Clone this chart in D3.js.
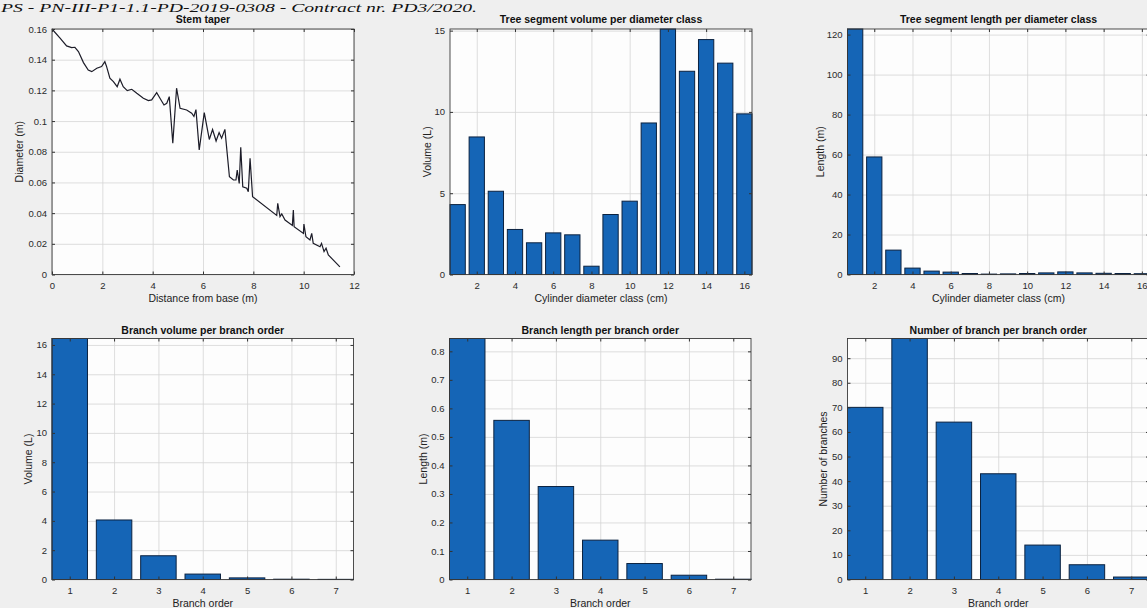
<!DOCTYPE html>
<html>
<head>
<meta charset="utf-8">
<script src="https://cdnjs.cloudflare.com/ajax/libs/d3/7.8.5/d3.min.js"></script>
<style>
    body { margin: 0; background: #efefef; overflow: hidden; }
    svg { display: block; font-family: "Liberation Sans", Arial, sans-serif; }
</style>
</head>
<body>
<svg id="fig"></svg>
<script>
// stem taper profile
var taperDist = [0, 0.32, 0.58, 0.78, 0.91, 1.05, 1.25, 1.44, 1.58, 1.78, 1.97, 2.10, 2.17, 2.30, 2.44, 2.59,
    2.70, 2.83, 2.99, 3.17, 3.37, 3.63, 3.83, 3.96, 4.16, 4.29, 4.45, 4.56, 4.66, 4.80, 4.95, 5.09,
    5.35, 5.55, 5.64, 5.72, 5.85, 6.05, 6.25, 6.38, 6.52, 6.64, 6.74, 6.87, 7.05, 7.21, 7.31, 7.36,
    7.44, 7.50, 7.58, 7.74, 7.80, 7.87, 7.97, 8.93, 8.97, 9.06, 9.13, 9.26, 9.55, 9.59, 9.62, 9.99,
    10.01, 10.09, 10.25, 10.32, 10.38, 10.65, 10.71, 10.81, 10.89, 10.98, 11.20, 11.44];
var taperDiam = [0.160, 0.154, 0.149, 0.1479, 0.1481, 0.1453, 0.1381, 0.1333, 0.1322, 0.1344, 0.1355, 0.1387, 0.1355, 0.1279, 0.1257, 0.1224,
    0.1273, 0.1224, 0.1198, 0.1207, 0.1181, 0.1149, 0.1133, 0.1138, 0.1185, 0.1149, 0.1105, 0.1116, 0.1159, 0.0855, 0.1214, 0.1083,
    0.1072, 0.1051, 0.1030, 0.1075, 0.0812, 0.1055, 0.0880, 0.0945, 0.0870, 0.0925, 0.0888, 0.0946, 0.0637, 0.0616, 0.0616, 0.0680,
    0.0594, 0.0829, 0.0572, 0.0562, 0.0540, 0.0757, 0.0507, 0.0385, 0.0464, 0.0377, 0.0395, 0.0355, 0.0320, 0.0420, 0.0312, 0.0268,
    0.0329, 0.0246, 0.0225, 0.0268, 0.0203, 0.0181, 0.0203, 0.0149, 0.0171, 0.0127, 0.0090, 0.0050];

var diamClass = [1, 2, 3, 4, 5, 6, 7, 8, 9, 10, 11, 12, 13, 14, 15, 16];
var segVolume = [4.3, 8.46, 5.12, 2.77, 1.95, 2.56, 2.44, 0.51, 3.69, 4.51, 9.32, 15.1, 12.5, 14.45, 13.0, 9.88];
var segLength = [122.8, 58.8, 12.2, 3.2, 1.7, 1.2, 0.5, 0.2, 0.3, 0.5, 0.8, 1.3, 0.8, 0.6, 0.5, 0.4];

var branchOrder = [1, 2, 3, 4, 5, 6, 7];
var branchVolume = [16.44, 4.06, 1.62, 0.37, 0.11, 0.02, 0.01];
var branchLength = [0.845, 0.558, 0.326, 0.138, 0.056, 0.015, 0.001];
var branchCount = [70, 98, 64, 43, 14, 6, 1];

var width = 1147;
var height = 608;
var barColor = "#1565b6";
var gridColor = "#d6d6d6";
var fmt = d3.format("~g");

var svg = d3.select("#fig").attr("width", width).attr("height", height);

// header line of the page
svg.append("text")
    .attr("x", 1)
    .attr("y", 12)
    .attr("textLength", 476)
    .attr("lengthAdjust", "spacingAndGlyphs")
    .style("font-family", "'Liberation Serif', 'Times New Roman', serif")
    .style("font-style", "italic")
    .style("font-size", "12px")
    .style("fill", "#111")
    .text("PS - PN-III-P1-1.1-PD-2019-0308 - Contract nr. PD3/2020.");

var panels = [
    {title: "Stem taper", xLabel: "Distance from base (m)", yLabel: "Diameter (m)",
        left: 52, top: 29, w: 302, h: 245.5, xDom: [0, 12], yDom: [0, 0.16],
        xTicks: d3.range(0, 13, 2), yTicks: d3.range(0, 0.161, 0.02), yOff: 33,
        line: {x: taperDist, y: taperDiam}},
    {title: "Tree segment volume per diameter class", xLabel: "Cylinder diameter class (cm)", yLabel: "Volume (L)",
        left: 450, top: 29, w: 302, h: 245.5, xDom: [0.6, 16.4], yDom: [0, 15.1],
        xTicks: d3.range(2, 17, 2), yTicks: [0, 5, 10, 15], yOff: 23,
        bars: {x: diamClass, y: segVolume}},
    {title: "Tree segment length per diameter class", xLabel: "Cylinder diameter class (cm)", yLabel: "Length (m)",
        left: 847.5, top: 29, w: 302, h: 245.5, xDom: [0.6, 16.4], yDom: [0, 122.8],
        xTicks: d3.range(2, 17, 2), yTicks: d3.range(0, 121, 20), yOff: 27,
        bars: {x: diamClass, y: segLength}},
    {title: "Branch volume per branch order", xLabel: "Branch order", yLabel: "Volume (L)",
        left: 52, top: 338.5, w: 301.5, h: 241, xDom: [0.6, 7.4], yDom: [0, 16.44],
        xTicks: branchOrder, yTicks: d3.range(0, 17, 2), yOff: 24,
        bars: {x: branchOrder, y: branchVolume}},
    {title: "Branch length per branch order", xLabel: "Branch order", yLabel: "Length (m)",
        left: 449.5, top: 338.5, w: 301.5, h: 241, xDom: [0.6, 7.4], yDom: [0, 0.845],
        xTicks: branchOrder, yTicks: d3.range(0, 0.81, 0.1), yOff: 26,
        bars: {x: branchOrder, y: branchLength}},
    {title: "Number of branch per branch order", xLabel: "Branch order", yLabel: "Number of branches",
        left: 847.5, top: 338.5, w: 301.5, h: 241, xDom: [0.6, 7.4], yDom: [0, 98],
        xTicks: branchOrder, yTicks: d3.range(0, 91, 10), yOff: 24,
        bars: {x: branchOrder, y: branchCount}}
];

panels.forEach(function (p) {
    var g = svg.append("g").attr("transform", "translate(" + p.left + "," + p.top + ")");
    var x = d3.scaleLinear().domain(p.xDom).range([0, p.w]);
    var y = d3.scaleLinear().domain(p.yDom).range([p.h, 0]);

    g.append("rect").attr("width", p.w).attr("height", p.h).attr("fill", "#fdfdfd");

    // grid
    g.append("g")
        .attr("transform", "translate(0," + p.h + ")")
        .call(d3.axisBottom(x).tickValues(p.xTicks).tickSize(-p.h).tickFormat(""))
        .call(function (s) {
            s.select(".domain").remove();
            s.selectAll("line").attr("stroke", gridColor).attr("stroke-width", 0.8);
        });
    g.append("g")
        .call(d3.axisLeft(y).tickValues(p.yTicks).tickSize(-p.w).tickFormat(""))
        .call(function (s) {
            s.select(".domain").remove();
            s.selectAll("line").attr("stroke", gridColor).attr("stroke-width", 0.8);
        });

    if (p.bars) {
        var data = p.bars.x.map(function (d, i) {
            return {k: d, v: p.bars.y[i]};
        });
        g.append("g")
            .selectAll("rect")
            .data(data)
            .enter().append("rect")
            .attr("x", function (d) {
                return x(d.k - 0.4);
            })
            .attr("width", function (d) {
                return x(d.k + 0.4) - x(d.k - 0.4);
            })
            .attr("y", function (d) {
                return y(d.v);
            })
            .attr("height", function (d) {
                return p.h - y(d.v);
            })
            .attr("fill", barColor)
            .attr("stroke", "#0b2240")
            .attr("stroke-width", 1);
    }

    if (p.line) {
        var pts = p.line.x.map(function (d, i) {
            return [d, p.line.y[i]];
        });
        g.append("path")
            .datum(pts)
            .attr("fill", "none")
            .attr("stroke", "#1c1c28")
            .attr("stroke-width", 1.2)
            .attr("d", d3.line()
                .x(function (d) { return x(d[0]); })
                .y(function (d) { return y(d[1]); }));
    }

    // axes with inward ticks, MATLAB style box
    var styleAxis = function (s) {
        s.select(".domain").remove();
        s.selectAll("line").attr("stroke", "#333");
        s.selectAll("text").style("font-size", "9.5px").style("fill", "#2a2a2a");
    };
    g.append("g")
        .attr("transform", "translate(0," + p.h + ")")
        .call(d3.axisBottom(x).tickValues(p.xTicks).tickSizeInner(-3).tickSizeOuter(0).tickPadding(8).tickFormat(fmt))
        .call(styleAxis);
    g.append("g")
        .call(d3.axisLeft(y).tickValues(p.yTicks).tickSizeInner(-3).tickSizeOuter(0).tickPadding(5).tickFormat(fmt))
        .call(styleAxis);
    g.append("g")
        .call(d3.axisTop(x).tickValues(p.xTicks).tickSizeInner(-3).tickSizeOuter(0).tickFormat(""))
        .call(styleAxis);
    g.append("g")
        .attr("transform", "translate(" + p.w + ",0)")
        .call(d3.axisRight(y).tickValues(p.yTicks).tickSizeInner(-3).tickSizeOuter(0).tickFormat(""))
        .call(styleAxis);

    g.append("rect")
        .attr("width", p.w).attr("height", p.h)
        .attr("fill", "none")
        .attr("stroke", "#3a3a3a")
        .attr("stroke-width", 0.9);

    // title and labels
    g.append("text")
        .attr("x", p.w / 2)
        .attr("y", p.top < 100 ? -6 : -4.5)
        .attr("text-anchor", "middle")
        .style("font-size", "10.5px")
        .style("font-weight", "bold")
        .style("fill", "#111")
        .text(p.title);

    g.append("text")
        .attr("x", p.w / 2)
        .attr("y", p.h + 27)
        .attr("text-anchor", "middle")
        .style("font-size", "10.5px")
        .style("fill", "#222")
        .text(p.xLabel);

    g.append("text")
        .attr("transform", "rotate(-90)")
        .attr("x", -p.h / 2)
        .attr("y", -p.yOff)
        .attr("dy", "0.35em")
        .attr("text-anchor", "middle")
        .style("font-size", "10.5px")
        .style("fill", "#222")
        .text(p.yLabel);
});
</script>
</body>
</html>
